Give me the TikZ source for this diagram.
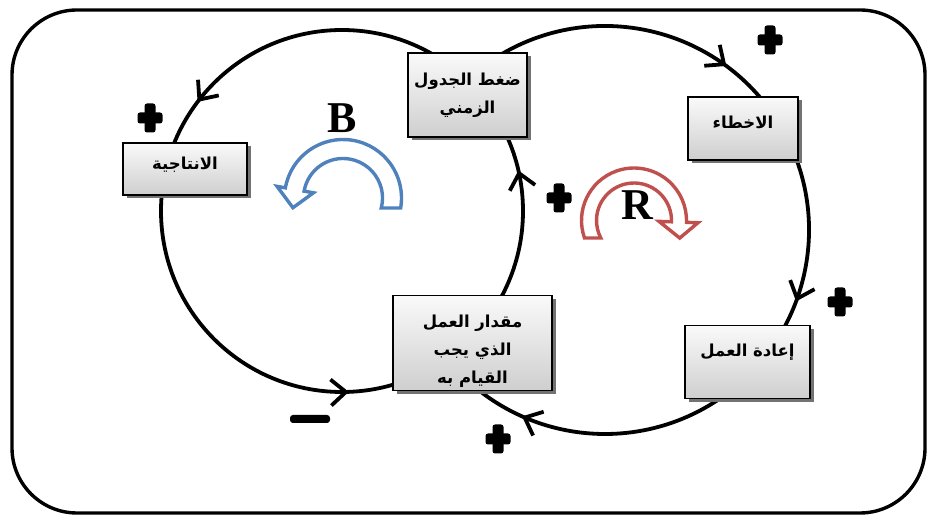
\documentclass[tikz,border=0pt]{standalone}
\usepackage{fontspec}
\setmainfont{Liberation Serif}
\newfontfamily\arabicfont[Script=Arabic, BoldFont={DejaVu Sans Bold}]{DejaVu Sans}
\TeXXeTstate=1
\usetikzlibrary{arrows.meta,decorations.markings,shadows}
\definecolor{bblue}{RGB}{79,129,189}
\definecolor{rred}{RGB}{192,80,77}
\tikzset{loopbarb/.tip={Straight Barb[length=15pt,width=26pt,line width=3.8pt]}}
\begin{document}
\begin{tikzpicture}[x=1pt,y=1pt,
  loopline/.style={line width=3.8pt, draw=black},
  box/.style={draw=black, line width=1.4pt, top color=gray!4, bottom color=gray!38,
    drop shadow={shadow xshift=3.5pt, shadow yshift=-3.5pt, fill=black!55, opacity=1}, inner sep=0pt},
  lbl/.style={font=\arabicfont\bfseries\fontsize{16.5}{28}\selectfont, align=center, inner sep=0pt},
  curvedarrow/.style={line width=3.4pt, fill=white, line join=miter},
  bigletter/.style={font=\bfseries\fontsize{44}{44}\selectfont, inner sep=0pt},
  plussign/.pic={\fill[rounded corners=2.5pt] (-12.5,-5.5) rectangle (12.5,5.5);
                 \fill[rounded corners=2.5pt] (-5.5,-14.5) rectangle (5.5,14.5);}
]
\useasboundingbox (0,0) rectangle (928,519);
% frame
\draw[line width=3.4pt, rounded corners=65pt] (12,6) rectangle (925,509);

% left loop (balancing)
\coordinate (lc) at (342,308);
\draw[loopline, postaction={decorate}, decoration={markings,
  mark=at position 0.036 with {\arrow{loopbarb}},
  mark=at position 0.397 with {\arrow{loopbarb}},
  mark=at position 0.756 with {\arrow{loopbarb}}}]
  (lc) ++(0:181) arc[start angle=0, end angle=360, radius=181];

% right loop (reinforcing)
\coordinate (rc) at (605,289);
\draw[loopline, postaction={decorate}, decoration={markings,
  mark=at position 0.274 with {\arrow{loopbarb}},
  mark=at position 0.57 with {\arrow{loopbarb}},
  mark=at position 0.944 with {\arrow{loopbarb}}}]
  (rc) ++(122:204) arc[start angle=122, end angle=-128, radius=204];

% boxes
\node[box, minimum width=119pt, minimum height=84pt] (press) at (467.5,424) {};
\node[lbl] (presstext) at (467.5,424) {\beginR ضغط الجدول\endR\\\beginR الزمني\endR};

\node[box, minimum width=110pt, minimum height=63pt] (errors) at (743,390.5) {};
\node[lbl] (errorstext) at (743,397) {\beginR الاخطاء\endR};

\node[box, minimum width=124pt, minimum height=52pt] (prod) at (185,350) {};
\node[lbl] (prodtext) at (185,354) {\beginR الانتاجية\endR};

\node[box, minimum width=159pt, minimum height=95pt] (work) at (472.5,176) {};
\node[lbl] (worktext) at (472.5,168) {\beginR مقدار العمل\endR\\\beginR الذي يجب\endR\\\beginR القيام به\endR};

\node[box, minimum width=125pt, minimum height=73pt] (rework) at (747.5,157) {};
\node[lbl] (reworktext) at (747.5,167) {\beginR إعادة العمل\endR};

% curved loop-type arrows
\begin{scope}[shift={(343,321)}]
\draw[curvedarrow, draw=bblue] (-9.8:58.5) arc[start angle=-9.8,end angle=170,radius=58.5]
  -- (170:67) -- (191:51) -- (170:30) -- (170:39.5)
  arc[start angle=170,end angle=-14.7,radius=39.5] -- cycle;
\end{scope}
\begin{scope}[shift={(634,298.5)}]
\draw[curvedarrow, draw=rred] (199.5:52.5) arc[start angle=199.5,end angle=-2,radius=52.5]
  -- (-2:64) -- (-21:49) -- (-2:25) -- (-2:37.5)
  arc[start angle=-2,end angle=207.8,radius=37.5] -- cycle;
\end{scope}

\node[bigletter] (bl) at (342,401) {B};
\node[bigletter] (rl) at (637,314) {R};

% polarity signs
\pic at (770,479) {plussign};
\pic at (840,217) {plussign};
\pic at (150,401) {plussign};
\pic at (559,321) {plussign};
\pic at (498,80) {plussign};
\fill[rounded corners=3pt] (290,96) rectangle (330,104);
\end{tikzpicture}
\end{document}
